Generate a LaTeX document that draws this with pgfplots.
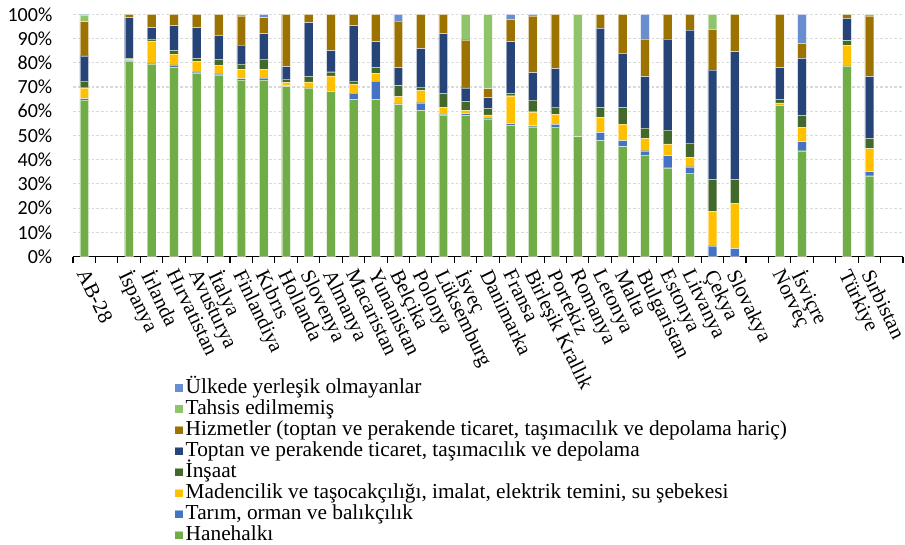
\documentclass[border=0pt]{standalone}
\usepackage{pgfplots}
\usepackage{pgfplotstable}
\pgfplotsset{compat=1.18}
\usepackage{fontspec}
\setmainfont{Liberation Serif}
\newfontfamily\carlito{Carlito}
\definecolor{cH}{HTML}{70AD47}
\definecolor{cT}{HTML}{4472C4}
\definecolor{cM}{HTML}{FFC000}
\definecolor{cI}{HTML}{43682B}
\definecolor{cTT}{HTML}{264478}
\definecolor{cHz}{HTML}{9C7200}
\definecolor{cTE}{HTML}{8FC46A}
\definecolor{cU}{HTML}{698ED0}
\pgfplotstableread{
x  H    T    M    I    TT   Hz   TE   U
0  64.6 0.6  4.5  2.8  10.4 14.1 2.7  0.3
2  80.7 0.3  0.6  0.2  16.8 1.4  0    0
3  79.5 0.4  9.1  0.8  4.7  5.5  0    0
4  78.1 1.0  4.5  1.5  10.2 4.7  0    0
5  75.8 0.4  4.3  1.3  12.7 5.5  0    0
6  75.0 0.4  3.6  2.4  9.9  8.7  0    0
7  72.8 0.7  3.8  2.2  7.8  12.1 0.6  0
8  72.8 0.9  3.6  4.3  10.4 6.6  0    1.4
9  70.2 0.4  1.2  1.5  5.1  21.6 0    0
10 69.7 0.2  2.2  2.3  22.2 3.4  0    0
11 68.1 0.2  6.3  1.7  8.7  15.0 0    0
12 64.9 2.6  3.8  1.2  22.8 4.7  0    0
13 64.9 7.5  3.1  2.6  10.6 11.3 0    0
14 62.7 0.6  2.7  4.6  7.4  19.2 0    2.8
15 60.4 3.1  5.0  1.5  15.8 14.2 0    0
16 58.5 0.2  2.8  5.9  24.6 8.0  0    0
17 58.3 0.7  1.4  3.7  5.6  19.7 10.6 0
18 56.9 0.6  1.0  2.7  4.4  3.7  30.7 0
19 54.2 0.7  11.5 1.0  21.3 9.2  0    2.1
20 53.6 0.5  5.7  4.8  11.3 23.5 0    0.6
21 53.5 1.1  4.1  3.1  15.8 22.4 0    0
22 49.5 0    0    0    0    0    50.5 0
23 48.0 3.2  6.2  4.2  32.6 5.8  0    0
24 45.4 2.5  6.8  6.9  22.3 16.1 0    0
25 42.0 1.7  5.1  4.3  21.2 15.5 0    10.2
26 36.7 5.0  4.8  5.8  37.5 10.2 0    0
27 34.5 2.6  3.9  5.9  46.6 6.5  0    0
28 0    4.5  14.2 13.2 45.1 16.8 6.2  0
29 0    3.3  18.8 9.8  52.7 15.4 0    0
31 62.4 0.2  0.8  1.5  13.1 22.0 0    0
32 43.7 3.8  5.9  4.9  23.5 6.2  0    12.0
34 78.7 0    8.6  1.8  9.2  1.7  0    0
35 33.4 1.7  9.5  4.2  25.5 25.1 0.6  0
}\data
\begin{document}
\begin{tikzpicture}
\begin{axis}[
  scale only axis,
  width=622.5pt, height=181.8pt,
  ybar stacked,
  bar width=0.39,
  xmin=-0.5, xmax=36.5,
  ymin=0, ymax=100,
  axis x line*=bottom,
  axis y line*=left,
  y axis line style={draw=none},
  x axis line style={black, line width=0.8pt},
  xtick={0,...,35},
  xticklabels={AB-28,,İspanya,İrlanda,Hırvatistan,Avusturya,İtalya,Finlandiya,Kıbrıs,Hollanda,Slovenya,Almanya,Macaristan,Yunanistan,Belçika,Polonya,Lüksemburg,İsveç,Danimarka,Fransa,Birleşik Krallık,Portekiz,Romanya,Letonya,Malta,Bulgaristan,Estonya,Litvanya,Çekya,Slovakya,,Norveç,İsviçre,,Türkiye,Sırbistan},
  minor xtick={-0.5,0.5,...,36.5},
  major tick length=0pt,
  minor tick length=4.5pt,
  tick align=outside,
  minor tick style={black, line width=0.8pt},
  xticklabel style={xshift=3.6pt, yshift=-8pt, rotate=-64, anchor=north west, inner sep=0pt, font=\fontsize{15.6}{15.6}\selectfont},
  ytick={0,10,...,100},
  yticklabels={0\%,10\%,20\%,30\%,40\%,50\%,60\%,70\%,80\%,90\%,100\%},
  yticklabel style={font=\carlito\fontsize{15}{15}\selectfont, xshift=-12pt},
  ymajorgrids,
  major grid style={draw=black!15, line width=0.8pt, dash pattern=on 2pt off 1.5pt},
  reverse legend,
  legend cell align=left,
  legend style={draw=none, fill=none, at={(0.117,-0.485)}, anchor=north west,
    font=\fontsize{16}{16}\selectfont,
    nodes={text height=11.5pt, text depth=3.5pt, inner ysep=0.4pt, inner xsep=2pt}},
  legend image code/.code={\fill[#1] (0pt,-3.1pt) rectangle (6.2pt,3.1pt);},
  every axis plot/.append style={draw=white, line width=0.3pt, draw opacity=0.5},
]
\addplot[fill=cH] table[x=x,y=H]{\data};
\addplot[fill=cT] table[x=x,y=T]{\data};
\addplot[fill=cM] table[x=x,y=M]{\data};
\addplot[fill=cI] table[x=x,y=I]{\data};
\addplot[fill=cTT] table[x=x,y=TT]{\data};
\addplot[fill=cHz] table[x=x,y=Hz]{\data};
\addplot[fill=cTE] table[x=x,y=TE]{\data};
\addplot[fill=cU] table[x=x,y=U]{\data};
\legend{Hanehalkı,{Tarım, orman ve balıkçılık},{Madencilik ve taşocakçılığı, imalat, elektrik temini, su şebekesi},İnşaat,{Toptan ve perakende ticaret, taşımacılık ve depolama},{Hizmetler (toptan ve perakende ticaret, taşımacılık ve depolama hariç)},Tahsis edilmemiş,Ülkede yerleşik olmayanlar}
\end{axis}
\pgfresetboundingbox
\path[use as bounding box] (-54.75pt,-216.2pt) rectangle (624.0pt,192.5pt);
\end{tikzpicture}
\end{document}
